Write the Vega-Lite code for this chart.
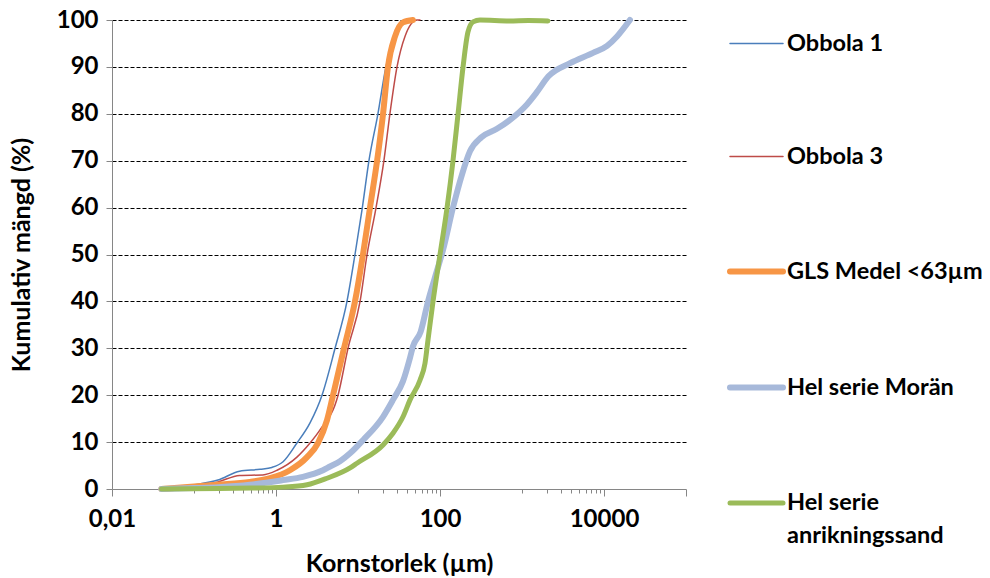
{
  "$schema": "https://vega.github.io/schema/vega-lite/v6.json",
  "width": 574,
  "height": 469,
  "autosize": "none",
  "padding": {"left": 112, "top": 20, "right": 304, "bottom": 89},
  "background": "white",
  "config": {"view": {"stroke": null}, "font": "Lato"},
  "datasets": {
    "curves": [
      {"s": "Obbola 1", "x": 0.04, "y": 0},
      {"s": "Obbola 1", "x": 0.097, "y": 0.85},
      {"s": "Obbola 1", "x": 0.196, "y": 1.9},
      {"s": "Obbola 1", "x": 0.36, "y": 3.8},
      {"s": "Obbola 1", "x": 0.64, "y": 4.2},
      {"s": "Obbola 1", "x": 0.89, "y": 4.6},
      {"s": "Obbola 1", "x": 1.22, "y": 5.8},
      {"s": "Obbola 1", "x": 1.8, "y": 9.8},
      {"s": "Obbola 1", "x": 2.6, "y": 14.1},
      {"s": "Obbola 1", "x": 3.64, "y": 20},
      {"s": "Obbola 1", "x": 5.25, "y": 30},
      {"s": "Obbola 1", "x": 7.34, "y": 40},
      {"s": "Obbola 1", "x": 9.19, "y": 50},
      {"s": "Obbola 1", "x": 11.3, "y": 60},
      {"s": "Obbola 1", "x": 13.6, "y": 70},
      {"s": "Obbola 1", "x": 17.5, "y": 80},
      {"s": "Obbola 1", "x": 21.9, "y": 90},
      {"s": "Obbola 1", "x": 28.3, "y": 97},
      {"s": "Obbola 1", "x": 37.4, "y": 100},
      {"s": "Obbola 3", "x": 0.04, "y": 0},
      {"s": "Obbola 3", "x": 0.1, "y": 0.5},
      {"s": "Obbola 3", "x": 0.196, "y": 1.5},
      {"s": "Obbola 3", "x": 0.36, "y": 2.9},
      {"s": "Obbola 3", "x": 0.69, "y": 3.0},
      {"s": "Obbola 3", "x": 1.03, "y": 4.0},
      {"s": "Obbola 3", "x": 1.8, "y": 6.8},
      {"s": "Obbola 3", "x": 2.6, "y": 9.8},
      {"s": "Obbola 3", "x": 3.44, "y": 12.6},
      {"s": "Obbola 3", "x": 5.71, "y": 20},
      {"s": "Obbola 3", "x": 7.55, "y": 30},
      {"s": "Obbola 3", "x": 10.6, "y": 40},
      {"s": "Obbola 3", "x": 12.9, "y": 50},
      {"s": "Obbola 3", "x": 16.6, "y": 60},
      {"s": "Obbola 3", "x": 20.7, "y": 70},
      {"s": "Obbola 3", "x": 24.5, "y": 80},
      {"s": "Obbola 3", "x": 29.9, "y": 90},
      {"s": "Obbola 3", "x": 37.4, "y": 96.5},
      {"s": "Obbola 3", "x": 52.4, "y": 100},
      {"s": "Obbola 3", "x": 57, "y": 100},
      {"s": "GLS Medel <63µm", "x": 0.04, "y": 0},
      {"s": "GLS Medel <63µm", "x": 0.19, "y": 0.9},
      {"s": "GLS Medel <63µm", "x": 0.48, "y": 1.5},
      {"s": "GLS Medel <63µm", "x": 0.845, "y": 2.3},
      {"s": "GLS Medel <63µm", "x": 1.48, "y": 4},
      {"s": "GLS Medel <63µm", "x": 2.39, "y": 6.8},
      {"s": "GLS Medel <63µm", "x": 3.25, "y": 9.8},
      {"s": "GLS Medel <63µm", "x": 4.19, "y": 14.7},
      {"s": "GLS Medel <63µm", "x": 4.96, "y": 20},
      {"s": "GLS Medel <63µm", "x": 6.75, "y": 30},
      {"s": "GLS Medel <63µm", "x": 9.19, "y": 40},
      {"s": "GLS Medel <63µm", "x": 11.5, "y": 50},
      {"s": "GLS Medel <63µm", "x": 14.0, "y": 60},
      {"s": "GLS Medel <63µm", "x": 17.1, "y": 70},
      {"s": "GLS Medel <63µm", "x": 20.2, "y": 80},
      {"s": "GLS Medel <63µm", "x": 23.2, "y": 90},
      {"s": "GLS Medel <63µm", "x": 28.3, "y": 96.5},
      {"s": "GLS Medel <63µm", "x": 35.4, "y": 99.5},
      {"s": "GLS Medel <63µm", "x": 46.8, "y": 100},
      {"s": "Hel serie Morän", "x": 0.04, "y": 0},
      {"s": "Hel serie Morän", "x": 0.1, "y": 0.2},
      {"s": "Hel serie Morän", "x": 0.2, "y": 0.4},
      {"s": "Hel serie Morän", "x": 0.48, "y": 0.9},
      {"s": "Hel serie Morän", "x": 1.22, "y": 1.9},
      {"s": "Hel serie Morän", "x": 2.13, "y": 2.6},
      {"s": "Hel serie Morän", "x": 3.74, "y": 4.0},
      {"s": "Hel serie Morän", "x": 4.56, "y": 4.8},
      {"s": "Hel serie Morän", "x": 6.03, "y": 5.9},
      {"s": "Hel serie Morän", "x": 8, "y": 7.6},
      {"s": "Hel serie Morän", "x": 11.5, "y": 10.4},
      {"s": "Hel serie Morän", "x": 20.2, "y": 15.4},
      {"s": "Hel serie Morän", "x": 26.7, "y": 19},
      {"s": "Hel serie Morän", "x": 35.4, "y": 23},
      {"s": "Hel serie Morän", "x": 43.1, "y": 28},
      {"s": "Hel serie Morän", "x": 47, "y": 30.5},
      {"s": "Hel serie Morän", "x": 58, "y": 33.5},
      {"s": "Hel serie Morän", "x": 71.4, "y": 40},
      {"s": "Hel serie Morän", "x": 92, "y": 46.6},
      {"s": "Hel serie Morän", "x": 109, "y": 51},
      {"s": "Hel serie Morän", "x": 144, "y": 60},
      {"s": "Hel serie Morän", "x": 185, "y": 67},
      {"s": "Hel serie Morän", "x": 232, "y": 72},
      {"s": "Hel serie Morän", "x": 320, "y": 75},
      {"s": "Hel serie Morän", "x": 495, "y": 76.8},
      {"s": "Hel serie Morän", "x": 714, "y": 78.7},
      {"s": "Hel serie Morän", "x": 1150, "y": 82},
      {"s": "Hel serie Morän", "x": 1500, "y": 84.5},
      {"s": "Hel serie Morän", "x": 2100, "y": 88},
      {"s": "Hel serie Morän", "x": 3850, "y": 90.8},
      {"s": "Hel serie Morän", "x": 7350, "y": 93},
      {"s": "Hel serie Morän", "x": 10900, "y": 94.5},
      {"s": "Hel serie Morän", "x": 14400, "y": 96.5},
      {"s": "Hel serie Morän", "x": 20700, "y": 100},
      {"s": "Hel serie anrikningssand", "x": 0.04, "y": 0},
      {"s": "Hel serie anrikningssand", "x": 0.2, "y": 0.1},
      {"s": "Hel serie anrikningssand", "x": 0.5, "y": 0.2},
      {"s": "Hel serie anrikningssand", "x": 1.22, "y": 0.4},
      {"s": "Hel serie anrikningssand", "x": 2.39, "y": 0.9},
      {"s": "Hel serie anrikningssand", "x": 4.19, "y": 2.3},
      {"s": "Hel serie anrikningssand", "x": 8, "y": 4.5},
      {"s": "Hel serie anrikningssand", "x": 9.72, "y": 5.5},
      {"s": "Hel serie anrikningssand", "x": 20.2, "y": 9.4},
      {"s": "Hel serie anrikningssand", "x": 26.7, "y": 11.9},
      {"s": "Hel serie anrikningssand", "x": 35.4, "y": 15.4},
      {"s": "Hel serie anrikningssand", "x": 43.1, "y": 19},
      {"s": "Hel serie anrikningssand", "x": 57, "y": 23.2},
      {"s": "Hel serie anrikningssand", "x": 65.6, "y": 26.8},
      {"s": "Hel serie anrikningssand", "x": 71.4, "y": 31.8},
      {"s": "Hel serie anrikningssand", "x": 82.2, "y": 40},
      {"s": "Hel serie anrikningssand", "x": 100, "y": 50},
      {"s": "Hel serie anrikningssand", "x": 122, "y": 60},
      {"s": "Hel serie anrikningssand", "x": 144, "y": 70},
      {"s": "Hel serie anrikningssand", "x": 166, "y": 80},
      {"s": "Hel serie anrikningssand", "x": 191, "y": 90},
      {"s": "Hel serie anrikningssand", "x": 219, "y": 97.4},
      {"s": "Hel serie anrikningssand", "x": 253, "y": 99.6},
      {"s": "Hel serie anrikningssand", "x": 307, "y": 100},
      {"s": "Hel serie anrikningssand", "x": 700, "y": 99.8},
      {"s": "Hel serie anrikningssand", "x": 1200, "y": 99.9},
      {"s": "Hel serie anrikningssand", "x": 2070, "y": 99.8}
    ]
  },
  "data": {"name": "curves"},
  "mark": {"type": "line", "interpolate": "monotone", "strokeCap": "round", "strokeJoin": "round"},
  "encoding": {
    "x": {
      "field": "x",
      "type": "quantitative",
      "scale": {"type": "log", "domain": [0.01, 100000], "nice": false},
      "axis": {
        "title": "Kornstorlek (µm)",
        "values": [0.01, 0.1, 0.2, 0.3, 0.4, 0.5, 0.6, 0.7, 0.8, 0.9, 1, 10, 20, 30, 40, 50, 60, 70, 80, 90, 100, 1000, 2000, 3000, 4000, 5000, 6000, 7000, 8000, 9000, 10000, 100000],
        "labelExpr": "datum.value == 0.01 ? '0,01' : datum.value == 1 ? '1' : datum.value == 100 ? '100' : datum.value == 10000 ? '10000' : ''",
        "grid": false,
        "domainColor": "#868686",
        "tickColor": "#868686",
        "tickSize": {"condition": {"test": "datum.value == 0.01 || datum.value == 1 || datum.value == 100 || datum.value == 10000 || datum.value == 100000", "value": 7}, "value": 4},
        "labelFont": "Lato",
        "labelFontWeight": "bold",
        "labelFontSize": 24,
        "labelColor": "black",
        "labelPadding": 11,
        "labelFlush": false,
        "labelOverlap": false,
        "titleFont": "Lato",
        "titleFontSize": 25,
        "titleFontWeight": "bold",
        "titleColor": "black",
        "titlePadding": 20
      }
    },
    "y": {
      "field": "y",
      "type": "quantitative",
      "scale": {"domain": [0, 100], "nice": false},
      "axis": {
        "title": "Kumulativ mängd (%)",
        "values": [0, 10, 20, 30, 40, 50, 60, 70, 80, 90, 100],
        "grid": true,
        "gridColor": "black",
        "gridDash": [4, 2],
        "gridWidth": 1,
        "gridOpacity": {"condition": {"test": "datum.value == 0", "value": 0}, "value": 1},
        "domainColor": "#868686",
        "tickColor": "#868686",
        "tickSize": 6,
        "labelFont": "Lato",
        "labelFontWeight": "bold",
        "labelFontSize": 24,
        "labelColor": "black",
        "labelPadding": 8,
        "titleFont": "Lato",
        "titleFontSize": 25,
        "titleFontWeight": "bold",
        "titleColor": "black",
        "titlePadding": 22
      }
    },
    "color": {
      "field": "s",
      "type": "nominal",
      "scale": {
        "domain": ["Obbola 1", "Obbola 3", "GLS Medel <63µm", "Hel serie Morän", "Hel serie anrikningssand"],
        "range": ["#4A7EBB", "#BE4B48", "#F79646", "#A7B9DA", "#9BBB59"]
      },
      "legend": {
        "title": null,
        "orient": "none",
        "legendX": 615,
        "legendY": -4,
        "padding": 0,
        "symbolType": "stroke",
        "symbolSize": 2809,
        "rowPadding": 74,
        "labelFont": "Lato",
        "labelFontSize": 23.5,
        "labelFontWeight": "bold",
        "labelColor": "black",
        "labelOffset": 1,
        "labelLimit": 400,
        "labelExpr": "datum.label == 'Hel serie anrikningssand' ? ['Hel serie', 'anrikningssand'] : datum.label",
        "encode": {
          "labels": {"update": {"lineHeight": {"value": 33}}},
          "symbols": {"update": {"strokeCap": {"value": "round"}}}
        }
      }
    },
    "strokeWidth": {
      "field": "s",
      "type": "nominal",
      "scale": {
        "type": "ordinal",
        "domain": ["Obbola 1", "Obbola 3", "GLS Medel <63µm", "Hel serie Morän", "Hel serie anrikningssand"],
        "range": [1.5, 1.5, 6, 6, 5]
      }
    }
  }
}
